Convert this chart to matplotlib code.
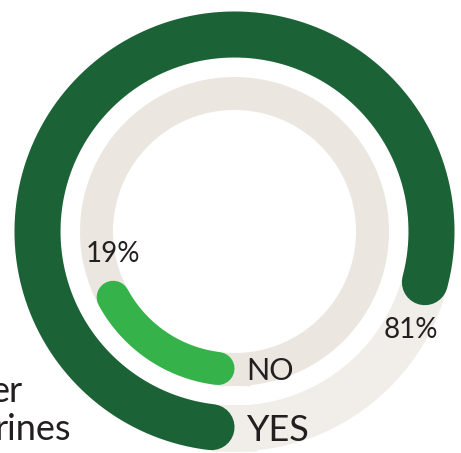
import numpy as np
import matplotlib
import matplotlib.pyplot as plt
matplotlib.use('Agg')

plt.rcParams['font.family'] = ['Lato', 'DejaVu Sans']

# survey answers, percent of respondents
answers = ['YES', 'NO']
shares = [81, 19]
share_labels = ['81%', '19%']

dark_green = '#1b6236'
light_green = '#35b34a'
track_outer = '#f1eee9'
track_inner = '#ebe7e0'
ink = '#231f20'

W, H, DPI = 461, 453, 100
fig = plt.figure(figsize=(W / DPI, H / DPI), dpi=DPI)

# polar axes laid out so one radial unit is one pixel
cx, cy = 234.5, H - 231.5
rmax = 230
ax = fig.add_axes([(cx - rmax) / W, (cy - rmax) / H, 2 * rmax / W, 2 * rmax / H],
                  projection='polar')
ax.set_theta_zero_location('S')
ax.set_theta_direction(-1)
ax.set_ylim(0, rmax)
ax.axis('off')

px2pt = 72 / DPI
rings = {'YES': (197, 46, dark_green, track_outer),
         'NO': (138, 33, light_green, track_inner)}

full = np.linspace(0, 2 * np.pi, 400)
for name, share, lab in zip(answers, shares, share_labels):
    r, w, col, track = rings[name]
    ax.plot(full, np.full_like(full, r), color=track, lw=w * px2pt, zorder=1)

    # arc of the answer, round caps kept inside the share's angle
    cap = (w / 2) / r
    end = share / 100 * 2 * np.pi
    th = np.linspace(cap, end - cap, 300)
    ax.plot(th, np.full_like(th, r), color=col, lw=w * px2pt,
            solid_capstyle='round', zorder=2)

    fs = 26 if name == 'YES' else 22
    ax.annotate(name, xy=(0, r), xytext=(12 * px2pt, -2 * px2pt),
                textcoords='offset points', ha='left', va='center',
                fontsize=fs, color=ink, zorder=3)

    # percentage just past the end of the arc
    if name == 'YES':
        ax.text(end + np.radians(7.5), 202, lab, ha='center', va='center',
                fontsize=20, color=ink, zorder=3)
    else:
        ax.text(end + np.radians(11), 124, lab, ha='center', va='center',
                fontsize=20, color=ink, zorder=3)

# neighbouring caption, cut by the left edge
fig.text(23 / W, (H - 401.5) / H, 'er', ha='right', va='baseline',
         fontsize=26, color=ink)
fig.text(71 / W, (H - 440) / H, 'rines', ha='right', va='baseline',
         fontsize=26, color=ink)

fig.savefig('out.png', dpi=DPI, facecolor='white')
